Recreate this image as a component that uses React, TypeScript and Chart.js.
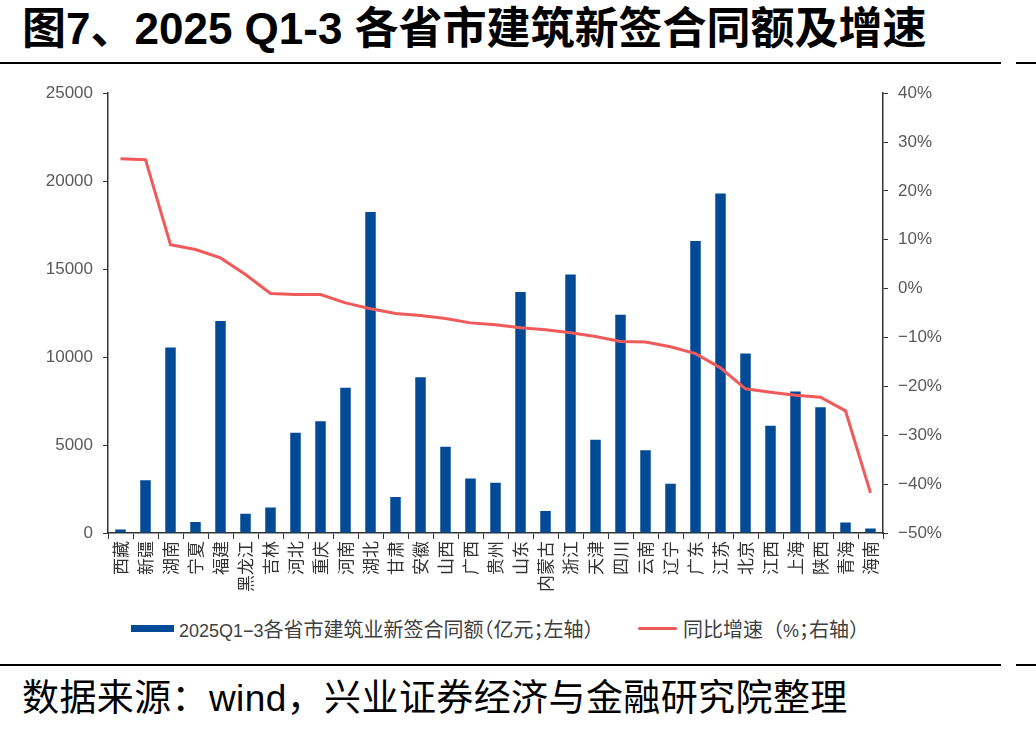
import React, { useEffect, useRef } from 'react';
import { Chart, registerables } from 'chart.js';

Chart.register(...registerables);

const provinces = ['西藏', '新疆', '湖南', '宁夏', '福建', '黑龙江', '吉林', '河北', '重庆', '河南', '湖北', '甘肃', '安徽', '山西', '广西', '贵州', '山东', '内蒙古', '浙江', '天津', '四川', '云南', '辽宁', '广东', '江苏', '北京', '江西', '上海', '陕西', '青海', '海南'];

const contractValues = [200, 3000, 10550, 620, 12050, 1100, 1450, 5700, 6350, 8250, 18250, 2050, 8850, 4900, 3100, 2850, 13700, 1250, 14700, 5300, 12400, 4700, 2800, 16600, 19300, 10200, 6100, 8050, 7150, 600, 250];

const growthRates = [26.6, 26.4, 9.0, 8.0, 6.3, 2.9, -1.0, -1.2, -1.2, -2.9, -4.1, -5.1, -5.5, -6.1, -7.0, -7.4, -8.0, -8.4, -9.0, -9.8, -10.8, -10.9, -11.9, -13.3, -16.2, -20.5, -21.2, -21.8, -22.2, -25.0, -41.8];

const leftAxisRange = [0, 25000, 5000];
const rightAxisRange = [-50, 40, 10];

const titleText = '图7、2025 Q1-3 各省市建筑新签合同额及增速';
const sourcePrefix = '数据来源：';
const sourceLatin = 'wind';
const sourceSuffix = '，兴业证券经济与金融研究院整理';
const barLabelLatin = '2025Q1\u22123';
const barLabelRest = '各省市建筑业新签合同额（亿元；左轴）';
const lineLabelA = '同比增速（';
const lineLabelB = '%';
const lineLabelC = '；';
const lineLabelD = '右轴）';

const BAR_COLOR = '#034A96';
const LINE_COLOR = '#F05A5A';
const AXIS_COLOR = '#333333';
const TICK_TEXT = '#595959';

const LATIN = '"Liberation Sans", Arial, sans-serif';
const CJK = '"Noto Sans CJK SC", sans-serif';

export default function App() {
  const canvasRef = useRef<HTMLCanvasElement | null>(null);

  useEffect(() => {
    if (!canvasRef.current) return;
    const chart = new Chart(canvasRef.current, {
      data: {
        labels: provinces,
        datasets: [
          {
            type: 'line',
            label: lineLabelA + lineLabelB + lineLabelC + lineLabelD,
            data: growthRates,
            yAxisID: 'y1',
            borderColor: LINE_COLOR,
            backgroundColor: LINE_COLOR,
            borderWidth: 3,
            pointRadius: 0,
            tension: 0,
            order: 0,
          },
          {
            type: 'bar',
            label: barLabelLatin + barLabelRest,
            data: contractValues,
            yAxisID: 'y',
            backgroundColor: BAR_COLOR,
            barPercentage: 0.42,
            categoryPercentage: 1,
            order: 1,
          },
        ],
      },
      options: {
        responsive: false,
        animation: false,
        devicePixelRatio: 1,
        layout: { padding: { top: 6, left: 0, right: 0, bottom: 0 } },
        plugins: {
          legend: { display: false },
          tooltip: { enabled: false },
          title: { display: false },
        },
        scales: {
          x: {
            offset: true,
            grid: {
              display: true,
              offset: true,
              drawOnChartArea: false,
              drawTicks: true,
              tickLength: 6,
              color: AXIS_COLOR,
              lineWidth: 1,
            },
            border: { display: true, color: AXIS_COLOR, width: 1.5 },
            ticks: {
              autoSkip: false,
              minRotation: 90,
              maxRotation: 90,
              padding: 2,
              color: '#333333',
              font: { family: CJK, size: 17 },
            },
            afterFit: (scale: any) => {
              scale.height = 67;
            },
          },
          y: {
            position: 'left',
            min: leftAxisRange[0],
            max: leftAxisRange[1],
            grid: {
              display: true,
              drawOnChartArea: false,
              drawTicks: true,
              tickLength: 5,
              color: AXIS_COLOR,
              lineWidth: 1,
            },
            border: { display: true, color: AXIS_COLOR, width: 1.5 },
            ticks: {
              stepSize: leftAxisRange[2],
              padding: 10,
              color: TICK_TEXT,
              font: { family: LATIN, size: 17 },
              callback: (v: any) => String(Number(v)),
            },
            afterFit: (scale: any) => {
              scale.width = 108;
            },
          },
          y1: {
            position: 'right',
            min: rightAxisRange[0],
            max: rightAxisRange[1],
            grid: {
              display: true,
              drawOnChartArea: false,
              drawTicks: true,
              tickLength: 5,
              color: AXIS_COLOR,
              lineWidth: 1,
            },
            border: { display: true, color: AXIS_COLOR, width: 1.5 },
            ticks: {
              stepSize: rightAxisRange[2],
              padding: 10,
              color: TICK_TEXT,
              font: { family: LATIN, size: 17 },
              callback: (v: any) => {
                const n = Number(v);
                return (n < 0 ? '\u2212' + Math.abs(n) : String(n)) + '%';
              },
            },
            afterFit: (scale: any) => {
              scale.width = 153;
            },
          },
        },
      },
    } as any);
    return () => chart.destroy();
  }, []);

  const legendText: React.CSSProperties = {
    position: 'absolute',
    top: 615,
    fontFamily: CJK,
    fontSize: 20,
    lineHeight: '28px',
    color: '#404040',
    whiteSpace: 'nowrap',
  };

  return (
    <div style={{ position: 'absolute', left: 0, top: 0, width: 1036, height: 731, background: '#ffffff', overflow: 'hidden' }}>
      <div
        style={{
          position: 'absolute',
          left: 22,
          top: 3,
          fontFamily: '"Liberation Sans", "Noto Sans CJK SC", sans-serif',
          fontWeight: 700,
          fontSize: 44,
          lineHeight: '52px',
          color: '#000',
          whiteSpace: 'nowrap',
        }}
      >
        {titleText}
      </div>
      <div style={{ position: 'absolute', left: 0, top: 62, width: 1001, height: 2, background: '#000' }} />
      <div style={{ position: 'absolute', left: 1016, top: 62, width: 20, height: 2, background: '#000' }} />

      <canvas ref={canvasRef} width={1036} height={527} style={{ position: 'absolute', left: 0, top: 73, width: 1036, height: 527, display: 'block' }} />

      <div style={{ position: 'absolute', left: 131, top: 625, width: 43, height: 7, background: BAR_COLOR }} />
      <div style={{ ...legendText, left: 179, fontFeatureSettings: '"halt"' }}>
        <span style={{ fontFamily: LATIN, fontSize: 18 }}>{barLabelLatin}</span>
        {barLabelRest}
      </div>
      <div style={{ position: 'absolute', left: 638, top: 627, width: 39, height: 3, background: LINE_COLOR, borderRadius: 1.5 }} />
      <div style={{ ...legendText, left: 683 }}>
        {lineLabelA}
        <span style={{ fontFamily: LATIN, fontSize: 18 }}>{lineLabelB}</span>
        <span style={{ fontFeatureSettings: '"halt"' }}>{lineLabelC}</span>
        {lineLabelD}
      </div>

      <div style={{ position: 'absolute', left: 0, top: 664, width: 1001, height: 2, background: '#000' }} />
      <div style={{ position: 'absolute', left: 1016, top: 664, width: 20, height: 2, background: '#000' }} />
      <div
        style={{
          position: 'absolute',
          left: 22,
          top: 672,
          fontFamily: CJK,
          fontSize: 37,
          lineHeight: '46px',
          color: '#000',
          whiteSpace: 'nowrap',
          letterSpacing: '0.4px',
        }}
      >
        {sourcePrefix}
        <span style={{ fontFamily: LATIN }}>{sourceLatin}</span>
        {sourceSuffix}
      </div>
    </div>
  );
}
